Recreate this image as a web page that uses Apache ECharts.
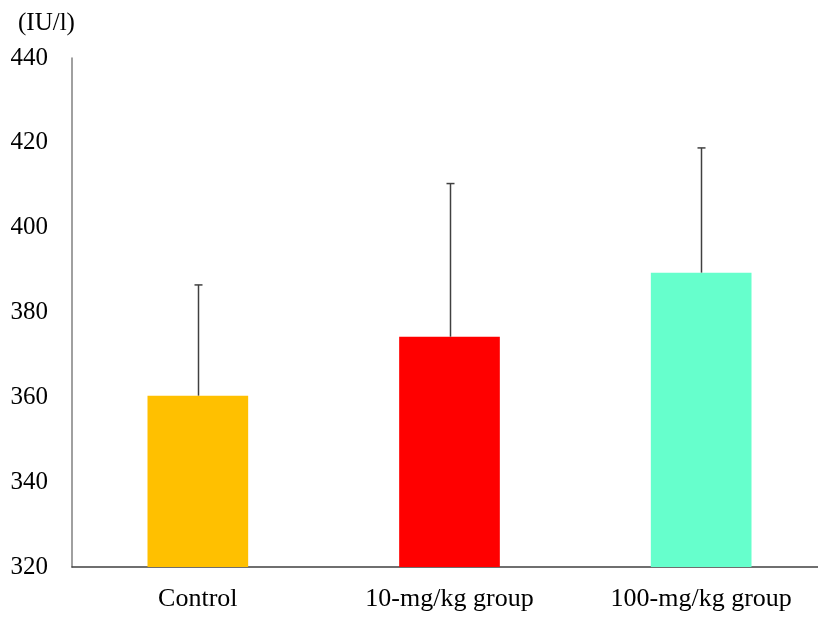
<!DOCTYPE html>
<html>
<head>
<meta charset="utf-8">
<script src="https://cdn.jsdelivr.net/npm/echarts@6/dist/echarts.min.js"></script>
<style>html,body{margin:0;padding:0;background:#fff;overflow:hidden;}#c{width:827px;height:620px;}</style>
</head>
<body>
<div id="c"></div>
<script>
const categories = ['Control', '10-mg/kg group', '100-mg/kg group'];
const means = [360.4, 374.3, 389.4];
const upperErr = [386.5, 410.4, 418.8];
const barColors = ['#FFC000', '#FF0000', '#66FFCC'];
const yTicks = [320, 340, 360, 380, 400, 420, 440];
const unitLabel = '(IU/l)';

const chart = echarts.init(document.getElementById('c'), null, {renderer: 'canvas'});
const font = '"Liberation Serif", "Times New Roman", serif';
chart.setOption({
  animation: false,
  backgroundColor: '#fff',
  grid: {left: 72, top: 58, height: 509, right: 0, containLabel: false},
  graphic: [{type: 'text', left: 18, top: 11, style: {text: unitLabel, font: '25px ' + font, fill: '#000'}}],
  xAxis: {
    type: 'category', data: categories,
    axisLine: {lineStyle: {color: '#404040', width: 1.5}},
    axisTick: {show: false},
    axisLabel: {color: '#000', fontFamily: font, fontSize: 26, margin: 19}
  },
  yAxis: {
    type: 'value', min: yTicks[0], max: yTicks[yTicks.length - 1], interval: 20,
    splitLine: {show: false},
    axisLine: {show: true, lineStyle: {color: '#808080', width: 1.5}},
    axisTick: {show: false},
    axisLabel: {color: '#000', fontFamily: font, fontSize: 25, margin: 24}
  },
  series: [
    {
      type: 'bar', barWidth: '40%',
      data: means.map((v, i) => ({value: v, itemStyle: {color: barColors[i]}}))
    },
    {
      type: 'custom',
      data: means.map((v, i) => [i, v, upperErr[i]]),
      renderItem: function (params, api) {
        const base = api.coord([api.value(0), api.value(1)]);
        const top = api.coord([api.value(0), api.value(2)]);
        const x = Math.round(base[0]) + 0.5;
        const st = {stroke: '#404040', lineWidth: 1.5};
        return {type: 'group', children: [
          {type: 'line', shape: {x1: x, y1: base[1], x2: x, y2: top[1]}, style: st},
          {type: 'line', shape: {x1: x - 4, y1: top[1], x2: x + 4, y2: top[1]}, style: st}
        ]};
      },
      z: 10
    }
  ]
});
</script>
</body>
</html>
